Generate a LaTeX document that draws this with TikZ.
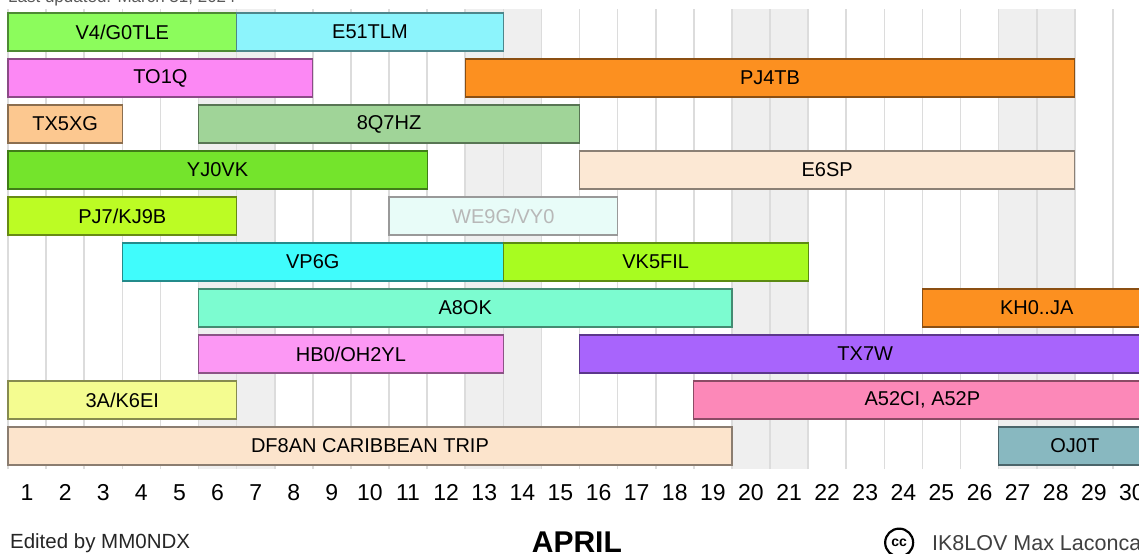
\documentclass[tikz,border=0pt]{standalone}
\usepackage{fontspec}
\setmainfont{Liberation Sans}
\usepackage{tikz}

\definecolor{cVfour}{HTML}{8CFC5C}
\definecolor{cEfive}{HTML}{8CF4FC}
\definecolor{cTOone}{HTML}{FC88F4}
\definecolor{cPJfour}{HTML}{FC9020}
\definecolor{cTXfive}{HTML}{FCC890}
\definecolor{cEightQ}{HTML}{A0D498}
\definecolor{cYJzero}{HTML}{74E42C}
\definecolor{cEsix}{HTML}{FCE8D4}
\definecolor{cPJseven}{HTML}{BCFC24}
\definecolor{cWEnine}{HTML}{E8FCF8}
\definecolor{cVPsix}{HTML}{40FCFC}
\definecolor{cVKfive}{HTML}{A8FC20}
\definecolor{cAeight}{HTML}{7CFCD0}
\definecolor{cKHzero}{HTML}{FC9020}
\definecolor{cHBzero}{HTML}{FC98F4}
\definecolor{cTXseven}{HTML}{A864FC}
\definecolor{cThreeA}{HTML}{F4FC90}
\definecolor{cAfive}{HTML}{FC88B8}
\definecolor{cDFeight}{HTML}{FCE4CC}
\definecolor{cOJzero}{HTML}{88B8C0}
\definecolor{weekend}{HTML}{EFEFEF}
\definecolor{gridgray}{HTML}{DCDCDC}

\newcommand{\barfont}{\fontsize{20}{23}\selectfont}
\newcommand{\dayfont}{\fontsize{23}{26}\selectfont}

\begin{document}
\begin{tikzpicture}[x=38.1pt, y=-46pt,
  bar/.style={draw=#1!55!black, fill=#1, line width=1.2pt},
  lbl/.style={font=\barfont, inner sep=0pt},
  daylbl/.style={font=\dayfont, inner sep=0pt},
  gridline/.style={draw=gridgray, line width=1.6pt}]

  % Frame of the picture
  \useasboundingbox (-0.21,-0.196) rectangle (29.685,11.826);
  \clip (-0.21,-0.196) rectangle (29.685,11.826);
  \fill[white] (-0.21,-0.196) rectangle (29.685,11.826);

  % Weekend columns
  \fill[weekend] (5,0) rectangle (7,10);
  \fill[weekend] (12,0) rectangle (14,10);
  \fill[weekend] (19,0) rectangle (21,10);
  \fill[weekend] (26,0) rectangle (28,10);

  % Calendar grid
  \draw[gridline, step=1] (0,0) grid (30,10);

  % Last update line (cut at the top)
  \node[anchor=base west, font=\fontsize{17}{20}\selectfont, text=black!65, inner sep=0pt] (updated) at (0,-0.137) {Last updated: March 31, 2024};

  % Row 1
  \path[bar=cVfour] (0,0.087) rectangle (6,0.913) node[midway, lbl] (vfour) {V4/G0TLE};
  \path[bar=cEfive] (6,0.087) rectangle (13,0.913) node[midway, lbl] (efive) {E51TLM};

  % Row 2
  \path[bar=cTOone] (0,1.087) rectangle (8,1.913) node[midway, lbl] (toone) {TO1Q};
  \path[bar=cPJfour] (12,1.087) rectangle (28,1.913) node[midway, lbl] (pjfour) {PJ4TB};

  % Row 3
  \path[bar=cTXfive] (0,2.087) rectangle (3,2.913) node[midway, lbl] (txfive) {TX5XG};
  \path[bar=cEightQ] (5,2.087) rectangle (15,2.913) node[midway, lbl] (eightq) {8Q7HZ};

  % Row 4
  \path[bar=cYJzero] (0,3.087) rectangle (11,3.913) node[midway, lbl] (yjzero) {YJ0VK};
  \path[bar=cEsix] (15,3.087) rectangle (28,3.913) node[midway, lbl] (esix) {E6SP};

  % Row 5
  \path[bar=cPJseven] (0,4.087) rectangle (6,4.913) node[midway, lbl] (pjseven) {PJ7/KJ9B};
  \path[bar=cWEnine, draw=black!40] (10,4.087) rectangle (16,4.913) node[midway, lbl, text=black!28] (wenine) {WE9G/VY0};

  % Row 6
  \path[bar=cVPsix] (3,5.087) rectangle (13,5.913) node[midway, lbl] (vpsix) {VP6G};
  \path[bar=cVKfive] (13,5.087) rectangle (21,5.913) node[midway, lbl] (vkfive) {VK5FIL};

  % Row 7
  \path[bar=cAeight] (5,6.087) rectangle (19,6.913) node[midway, lbl] (aeight) {A8OK};
  \path[bar=cKHzero] (24,6.087) rectangle (30,6.913) node[midway, lbl] (khzero) {KH0..JA};

  % Row 8
  \path[bar=cHBzero] (5,7.087) rectangle (13,7.913) node[midway, lbl] (hbzero) {HB0/OH2YL};
  \path[bar=cTXseven] (15,7.087) rectangle (30,7.913) node[midway, lbl] (txseven) {TX7W};

  % Row 9
  \path[bar=cThreeA] (0,8.087) rectangle (6,8.913) node[midway, lbl] (threea) {3A/K6EI};
  \path[bar=cAfive] (18,8.087) rectangle (30,8.913) node[midway, lbl] (afive) {A52CI, A52P};

  % Row 10
  \path[bar=cDFeight] (0,9.087) rectangle (19,9.913) node[midway, lbl] (dfeight) {DF8AN CARIBBEAN TRIP};
  \path[bar=cOJzero] (26,9.087) rectangle (30,9.913) node[midway, lbl] (ojzero) {OJ0T};

  % Day numbers
  \node[daylbl] (d1) at (0.5,10.52) {1};
  \node[daylbl] (d2) at (1.5,10.52) {2};
  \node[daylbl] (d3) at (2.5,10.52) {3};
  \node[daylbl] (d4) at (3.5,10.52) {4};
  \node[daylbl] (d5) at (4.5,10.52) {5};
  \node[daylbl] (d6) at (5.5,10.52) {6};
  \node[daylbl] (d7) at (6.5,10.52) {7};
  \node[daylbl] (d8) at (7.5,10.52) {8};
  \node[daylbl] (d9) at (8.5,10.52) {9};
  \node[daylbl] (d10) at (9.5,10.52) {10};
  \node[daylbl] (d11) at (10.5,10.52) {11};
  \node[daylbl] (d12) at (11.5,10.52) {12};
  \node[daylbl] (d13) at (12.5,10.52) {13};
  \node[daylbl] (d14) at (13.5,10.52) {14};
  \node[daylbl] (d15) at (14.5,10.52) {15};
  \node[daylbl] (d16) at (15.5,10.52) {16};
  \node[daylbl] (d17) at (16.5,10.52) {17};
  \node[daylbl] (d18) at (17.5,10.52) {18};
  \node[daylbl] (d19) at (18.5,10.52) {19};
  \node[daylbl] (d20) at (19.5,10.52) {20};
  \node[daylbl] (d21) at (20.5,10.52) {21};
  \node[daylbl] (d22) at (21.5,10.52) {22};
  \node[daylbl] (d23) at (22.5,10.52) {23};
  \node[daylbl] (d24) at (23.5,10.52) {24};
  \node[daylbl] (d25) at (24.5,10.52) {25};
  \node[daylbl] (d26) at (25.5,10.52) {26};
  \node[daylbl] (d27) at (26.5,10.52) {27};
  \node[daylbl] (d28) at (27.5,10.52) {28};
  \node[daylbl] (d29) at (28.5,10.52) {29};
  \node[daylbl] (d30) at (29.5,10.52) {30};

  % Footer
  \node[anchor=west, font=\fontsize{20.5}{23}\selectfont, text=black!85, inner sep=0pt] (edited) at (0.05,11.62) {Edited by MM0NDX};
  \node[font=\fontsize{30}{34}\selectfont\bfseries, inner sep=0pt] (month) at (14.93,11.58) {APRIL};
  \draw[line width=2.2pt] (23.39,11.6) circle[radius=14pt];
  \node[font=\fontsize{14}{16}\selectfont\bfseries, inner sep=0pt] (cc) at (23.39,11.6) {cc};
  \node[anchor=west, font=\fontsize{21.5}{24}\selectfont, text=black!75, inner sep=0pt] (author) at (24.25,11.62) {IK8LOV Max Laconca};

\end{tikzpicture}
\end{document}
